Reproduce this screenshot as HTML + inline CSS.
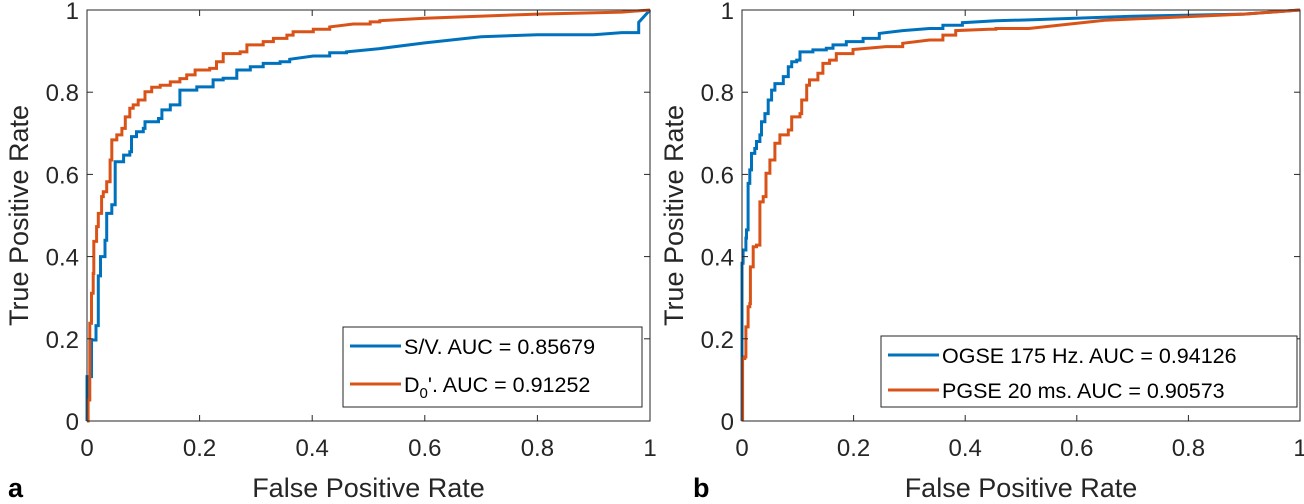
<!DOCTYPE html>
<html><head><meta charset="utf-8"><style>
body{margin:0;background:#fff;}
svg{display:block;font-family:"Liberation Sans",Arial,sans-serif;}
</style></head><body>
<svg id="chart" width="1304" height="504" viewBox="0 0 1304 504" xmlns="http://www.w3.org/2000/svg"></svg>
<script>
// Panel a data
const aBlueFpr=[0,0,0.008,0.016,0.02,0.024,0.032,0.035,0.044,0.05,0.065,0.076,0.079,0.088,0.1,0.103,0.127,0.133,0.148,0.165,0.195,0.224,0.242,0.266,0.29,0.313,0.343,0.36,0.402,0.431,0.461,0.52,0.6,0.7,0.8,0.9,0.95,0.98,1];
const aBlueTpr=[0,0.108,0.197,0.232,0.353,0.40,0.44,0.505,0.526,0.631,0.647,0.655,0.692,0.704,0.712,0.728,0.736,0.757,0.769,0.805,0.813,0.830,0.834,0.854,0.862,0.870,0.874,0.880,0.888,0.896,0.898,0.906,0.92,0.935,0.94,0.94,0.945,0.97,1];
const aOrgFpr=[0,0.002,0.005,0.008,0.011,0.012,0.017,0.02,0.026,0.029,0.035,0.041,0.044,0.053,0.062,0.068,0.076,0.082,0.091,0.103,0.115,0.13,0.148,0.165,0.177,0.192,0.218,0.23,0.242,0.272,0.284,0.313,0.331,0.355,0.366,0.402,0.431,0.473,0.503,0.52,0.6,0.8,0.95,1];
const aOrgTpr=[0,0.051,0.238,0.311,0.359,0.437,0.473,0.505,0.546,0.558,0.582,0.635,0.684,0.696,0.712,0.740,0.761,0.769,0.781,0.801,0.812,0.817,0.825,0.833,0.842,0.854,0.858,0.874,0.894,0.898,0.915,0.923,0.931,0.939,0.947,0.953,0.959,0.966,0.971,0.974,0.98,0.99,0.995,1];
// Panel b data
const bBlueFpr=[0,0,0.002,0.007,0.008,0.011,0.014,0.017,0.023,0.026,0.032,0.035,0.041,0.047,0.053,0.059,0.074,0.083,0.089,0.098,0.104,0.127,0.151,0.163,0.187,0.217,0.246,0.288,0.336,0.36,0.395,0.455,0.514,0.7,0.9,1];
const bBlueTpr=[0,0.384,0.416,0.445,0.465,0.578,0.611,0.651,0.663,0.680,0.696,0.728,0.748,0.781,0.805,0.821,0.838,0.862,0.874,0.878,0.898,0.903,0.907,0.915,0.923,0.931,0.943,0.950,0.955,0.963,0.969,0.974,0.976,0.985,0.99,1];
const bOrgFpr=[0.001,0.001,0.005,0.007,0.011,0.014,0.015,0.02,0.026,0.032,0.038,0.043,0.05,0.059,0.068,0.083,0.089,0.104,0.107,0.116,0.121,0.136,0.145,0.157,0.169,0.199,0.258,0.288,0.336,0.36,0.383,0.443,0.455,0.514,0.65,0.9,1];
const bOrgTpr=[0,0.152,0.156,0.229,0.278,0.286,0.375,0.424,0.428,0.533,0.546,0.603,0.635,0.676,0.696,0.708,0.740,0.748,0.781,0.817,0.830,0.846,0.870,0.878,0.894,0.904,0.911,0.919,0.927,0.939,0.950,0.953,0.955,0.955,0.975,0.99,1];
const tickVals=[0,0.2,0.4,0.6,0.8,1];
const tickLabels=["0","0.2","0.4","0.6","0.8","1"];

const NS="http://www.w3.org/2000/svg";
const svg=document.getElementById('chart');
function mk(tag,attrs,parent){const e=document.createElementNS(NS,tag);for(const k in attrs)e.setAttribute(k,attrs[k]);(parent||svg).appendChild(e);return e;}
const BLUE="#0072bd",ORG="#d95319";

function panel(id,x0,x1,y0,y1,series,legend,letter,letterX){
  const g=mk('g',{});
  
  
  const sx=v=>x0+v*(x1-x0), sy=v=>y0-v*(y0-y1);
  series.forEach(s=>{
    const p=[];
    const n=s.f.length;
    s.f.forEach((f,i)=>{
      if(i>0 && i<n-1 && f-s.f[i-1]<0.04) p.push(sx(f).toFixed(1)+','+sy(s.t[i-1]).toFixed(1));
      p.push(sx(f).toFixed(1)+','+sy(s.t[i]).toFixed(1));
    });
    const pl=mk('polyline',{points:p.join(' '),fill:'none',stroke:s.c,'stroke-width':3,'stroke-linejoin':'miter'},g);
    
    
  });
  const box=mk('rect',{x:x0,y:y1,width:x1-x0,height:y0-y1,fill:'none',stroke:'#262626','stroke-width':1},g);
  
  
  tickVals.forEach((v,i)=>{
    const X=sx(v),Y=sy(v);
    mk('line',{x1:X,y1:y0,x2:X,y2:y0-6,stroke:'#262626'},g);
    mk('line',{x1:X,y1:y1,x2:X,y2:y1+6,stroke:'#262626'},g);
    mk('line',{x1:x0,y1:Y,x2:x0+6,y2:Y,stroke:'#262626'},g);
    mk('line',{x1:x1,y1:Y,x2:x1-6,y2:Y,stroke:'#262626'},g);
    const tx=mk('text',{x:X,y:y0+35,'font-size':24,'text-anchor':'middle',fill:'#262626'},g);
    tx.textContent=tickLabels[i];
    
    
    const ty=mk('text',{x:x0-8,y:Y+9,'font-size':24,'text-anchor':'end',fill:'#262626'},g);
    ty.textContent=tickLabels[i];
    
    
  });
  const xl=mk('text',{x:(x0+x1)/2,y:497,'font-size':27,'text-anchor':'middle',fill:'#262626'},g);
  xl.textContent='False Positive Rate';
  
  
  const yl=mk('text',{x:0,y:0,'font-size':27,'text-anchor':'middle',fill:'#262626',transform:`translate(${x0-59},${(y0+y1)/2}) rotate(-90)`},g);
  yl.textContent='True Positive Rate';
  
  
  const lt=mk('text',{x:letterX,y:497,'font-size':27,'font-weight':'bold',fill:'#000'},g);
  lt.textContent=letter;
  
  
  const L=legend;
  const lg=mk('g',{},g);
  
  
  mk('rect',{x:L.x,y:L.y,width:L.w,height:L.h,fill:'#fff',stroke:'#262626'},lg);
  L.items.forEach((it,i)=>{
    const yy=L.y+L.first+i*L.gap;
    mk('line',{x1:L.x+7,y1:yy,x2:L.x+L.line,y2:yy,stroke:it.c,'stroke-width':3},lg);
    const t=mk('text',{x:L.x+L.line+3,y:yy+8,'font-size':21.5,fill:'#000'},lg);
    t.innerHTML=it.label;
    
    
  });
}
panel('panel-a',87,650,421,10,
 [{f:aBlueFpr,t:aBlueTpr,c:BLUE,name:'sv-roc-line'},{f:aOrgFpr,t:aOrgTpr,c:ORG,name:'d0-roc-line'}],
 {x:343,y:327,w:299,h:80,first:19,gap:38,line:58,items:[{c:BLUE,label:'S/V. AUC = 0.85679'},{c:ORG,label:'D<tspan font-size="15" dy="6">0</tspan><tspan dy="-6">\'. AUC = 0.91252</tspan>'}]},
 'a',8);
panel('panel-b',742,1300,421,10,
 [{f:bBlueFpr,t:bBlueTpr,c:BLUE,name:'ogse-roc-line'},{f:bOrgFpr,t:bOrgTpr,c:ORG,name:'pgse-roc-line'}],
 {x:881,y:336,w:416,h:71,first:19,gap:35,line:58,items:[{c:BLUE,label:'OGSE 175 Hz. AUC = 0.94126'},{c:ORG,label:'PGSE 20 ms. AUC = 0.90573'}]},
 'b',693);
</script>
</body></html>
